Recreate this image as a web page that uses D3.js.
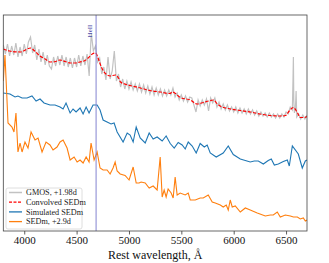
<!DOCTYPE html>
<html>
<head>
<meta charset="utf-8">
<script src="https://cdn.jsdelivr.net/npm/d3@7"></script>
<style>
  body { margin: 0; background: #fff; }
  svg { display: block; }
</style>
</head>
<body>
<svg id="chart"></svg>
<script>
// wavelength (Å), flux (arbitrary units, offset for display)
const gmos = [
  [3800,186],[3820,177],[3840,187],[3860,175],[3880,185],[3900,176],[3920,188],[3940,174],[3960,184],[3980,175],
  [4000,187],[4020,177],[4040,189],[4060,194],[4080,178],[4100,186],[4120,171],[4140,182],[4160,169],[4180,179],
  [4200,166],[4220,176],[4240,165],[4260,162],[4280,174],[4300,165],[4320,175],[4340,166],[4360,176],[4380,165],
  [4400,174],[4420,164],[4440,173],[4460,163],[4480,173],[4500,164],[4520,176],[4540,165],[4560,175],[4580,166],
  [4600,177],[4620,155],[4640,198],[4660,180],[4680,185],[4700,169],[4720,173],[4740,157],[4760,164],[4780,151],
  [4800,174],[4820,152],[4840,160],[4860,180],[4880,150],[4900,157],[4920,144],[4940,152],[4960,142],[4980,150],
  [5000,142],[5020,149],[5040,141],[5060,147],[5080,140],[5100,147],[5120,139],[5140,146],[5160,138],[5180,145],
  [5200,137],[5220,144],[5240,136],[5260,143],[5280,136],[5300,142],[5320,135],[5340,141],[5360,135],[5380,141],
  [5400,136],[5420,143],[5440,134],[5460,138],[5480,131],[5500,136],[5520,130],[5540,135],[5560,129],[5580,134],
  [5600,133],[5620,126],[5640,119],[5660,131],[5680,125],[5700,131],[5720,126],[5740,132],[5760,120],[5780,133],
  [5800,128],[5820,133],[5840,124],[5860,129],[5880,122],[5900,127],[5920,121],[5940,126],[5960,120],[5980,124],
  [6000,119],[6020,124],[6040,118],[6060,123],[6080,118],[6100,122],[6120,117],[6140,122],[6160,117],[6180,121],
  [6200,116],[6220,120],[6240,115],[6260,119],[6280,115],[6300,118],[6320,114],[6340,118],[6360,114],[6380,117],
  [6400,113],[6420,117],[6440,113],[6460,117],[6480,114],[6500,119],[6520,117],[6540,124],[6560,121],[6566,150],
  [6570,174],[6574,130],[6580,118],[6590,124],[6596,140],[6602,114],[6620,117],[6640,112],[6660,116],[6680,112],
  [6700,116]
];

const convolved = [
  [3800,182],[3860,180],[3960,179],[4060,183],[4100,180],[4150,175],[4200,172],[4250,169],[4300,169.5],[4340,171],
  [4390,169.5],[4440,168],[4490,168],[4530,169],[4580,170.5],[4610,173],[4650,177],[4680,178],[4705,173],[4725,167],
  [4755,160],[4780,157],[4820,155],[4870,156],[4900,153],[4920,149],[4960,147],[5010,145.5],[5110,143],[5200,140.5],
  [5300,139],[5390,137.5],[5415,139],[5490,133.5],[5585,131],[5650,127],[5710,128.5],[5760,130],[5805,131],[5845,127],
  [5870,125],[5970,122],[6060,120.5],[6160,119],[6250,117],[6350,115.5],[6445,115],[6495,115.5],[6530,120],[6570,123.5],
  [6610,118],[6635,113.5],[6675,113.5],[6700,114.5]
];

const simulated = [
  [3800,138],[3864,137],[3912,134],[3940,135],[3979,133],[4027,133],[4074,135],[4113,130],[4151,132],[4189,128],
  [4246,126],[4294,126],[4342,124],[4371,122],[4399,128],[4438,118],[4466,122],[4495,119],[4533,123],[4562,117],
  [4591,124],[4619,118],[4657,126],[4696,126],[4724,121],[4753,111],[4791,109],[4829,107],[4858,108],[4887,99],
  [4944,89],[4983,98],[5011,96],[5040,89],[5069,104],[5107,93],[5155,88],[5193,98],[5231,92],[5269,94],
  [5317,90],[5355,95],[5394,87.5],[5432,83],[5470,88.5],[5508,86],[5537,82],[5566,89],[5604,85],[5642,78],
  [5680,87.5],[5719,84],[5747,86],[5776,78],[5833,74],[5900,78],[5948,85],[5996,76.5],[6063,72],[6111,70.5],
  [6158,69],[6196,70],[6235,70],[6283,67],[6330,70.5],[6359,72],[6388,66],[6426,67],[6474,69.5],[6512,71],
  [6531,65],[6560,85],[6617,77],[6655,63],[6684,70],[6700,71]
];

const sedm = [
  [3800,150],[3816,176],[3845,108],[3883,104],[3902,99],[3921,118],[3940,79],[3960,88],[3979,79],[4007,89],
  [4036,83],[4065,99],[4103,91],[4132,93],[4170,79],[4208,89],[4246,86],[4275,81],[4313,84],[4342,89],
  [4371,91],[4409,83],[4438,71],[4476,74],[4505,69],[4533,71],[4562,68],[4591,74],[4619,69],[4638,88],
  [4667,71],[4696,79],[4724,63],[4753,61],[4791,61],[4820,57],[4848,63],[4868,69],[4887,60],[4916,57],
  [4963,55.5],[5001,51],[5040,64],[5069,48],[5097,48],[5116,49],[5155,48],[5193,43],[5231,45],[5269,41],
  [5298,74],[5317,34],[5336,41],[5355,34],[5374,42],[5403,38],[5422,33],[5441,54],[5460,36],[5489,38],
  [5537,36],[5566,38],[5585,31],[5633,31],[5680,33],[5709,33],[5757,36],[5795,29],[5824,28],[5872,26],
  [5900,24],[5929,26],[5948,21],[5967,31],[5986,24],[6015,25],[6063,19],[6111,23],[6158,21],[6225,18],
  [6302,15],[6350,16],[6378,16],[6416,19],[6445,14],[6493,16],[6541,15],[6570,14],[6608,14],[6636,12],
  [6665,13],[6684,10],[6700,11]
];

const xTicks = [4000, 4500, 5000, 5500, 6000, 6500];
const heIIWave = 4686;
const heIILabel = "HeII";
const legendLabels = ["GMOS, +1.98d", "Convolved SEDm", "Simulated SEDm", "SEDm, +2.9d"];
const xLabel = "Rest wavelength, Å";

const width = 329, height = 263;
const margin = {top: 15, right: 22, bottom: 32, left: 3.3};
const serif = "'Liberation Serif', 'DejaVu Serif', serif";

const svg = d3.select("#chart")
  .attr("width", width)
  .attr("height", height)
  .attr("font-family", serif);

const x = d3.scaleLinear()
  .domain([3800, 6700])
  .range([margin.left, width - margin.right]);

const y = d3.scaleLinear()
  .domain([0, 216])
  .range([height - margin.bottom, margin.top]);

svg.append("defs").append("clipPath").attr("id", "plot-clip")
  .append("rect")
  .attr("x", margin.left).attr("y", margin.top)
  .attr("width", x.range()[1] - x.range()[0])
  .attr("height", y.range()[0] - y.range()[1]);

const line = d3.line().x(d => x(d[0])).y(d => y(d[1]));

const plot = svg.append("g").attr("clip-path", "url(#plot-clip)");

plot.append("path").datum(gmos)
  .attr("d", line).attr("fill", "none")
  .attr("stroke", "#c2c2c2").attr("stroke-width", 1.2);

plot.append("path").datum(convolved)
  .attr("d", line.curve(d3.curveMonotoneX)).attr("fill", "none")
  .attr("stroke", "red").attr("stroke-width", 1.2)
  .attr("stroke-dasharray", "3.5,1.6");

line.curve(d3.curveLinear);

plot.append("path").datum(simulated)
  .attr("d", line).attr("fill", "none")
  .attr("stroke", "#1f77b4").attr("stroke-width", 1.1);

plot.append("path").datum(sedm)
  .attr("d", line).attr("fill", "none")
  .attr("stroke", "#ff7f0e").attr("stroke-width", 1.1);

// HeII marker
plot.append("line")
  .attr("x1", x(heIIWave)).attr("x2", x(heIIWave))
  .attr("y1", y.range()[1]).attr("y2", y.range()[0])
  .attr("stroke", "#8484d0").attr("stroke-width", 1);

svg.append("text")
  .attr("transform", `translate(${x(heIIWave) - 6.5},${31}) rotate(-90)`)
  .attr("text-anchor", "middle")
  .attr("dy", "0.35em")
  .attr("font-size", 7)
  .attr("fill", "#4a4aa8")
  .text(heIILabel);

// x axis
const xAxis = svg.append("g")
  .attr("transform", `translate(0,${y.range()[0]})`)
  .call(d3.axisBottom(x).tickValues(xTicks).tickSize(3.5).tickPadding(2).tickFormat(d3.format("d")));
xAxis.select(".domain").remove();
xAxis.selectAll("line").attr("stroke", "#333").attr("stroke-width", 0.8);
xAxis.selectAll("text").attr("font-family", serif).attr("font-size", 11).attr("fill", "#111");

svg.append("text")
  .attr("x", (x.range()[0] + x.range()[1]) / 2)
  .attr("y", 259)
  .attr("text-anchor", "middle")
  .attr("font-size", 12)
  .attr("fill", "#111")
  .text(xLabel);

// frame
svg.append("rect")
  .attr("x", x.range()[0]).attr("y", y.range()[1])
  .attr("width", x.range()[1] - x.range()[0])
  .attr("height", y.range()[0] - y.range()[1])
  .attr("fill", "none").attr("stroke", "#444").attr("stroke-width", 0.8);

// legend
const legendColors = ["#c2c2c2", "red", "#1f77b4", "#ff7f0e"];
const legend = svg.append("g").attr("transform", "translate(6,188)");
legend.append("rect")
  .attr("width", 76).attr("height", 41).attr("rx", 2)
  .attr("fill", "#fff").attr("fill-opacity", 0.85)
  .attr("stroke", "#d6d6d6").attr("stroke-width", 0.8);

const item = legend.selectAll("g.item")
  .data(legendLabels)
  .join("g")
  .attr("class", "item")
  .attr("transform", (d, i) => `translate(0,${4.5 + i * 9.7})`);

item.append("line")
  .attr("x1", 3).attr("x2", 16)
  .attr("stroke", (d, i) => legendColors[i])
  .attr("stroke-width", (d, i) => i === 0 ? 1.5 : 1.3)
  .attr("stroke-dasharray", (d, i) => i === 1 ? "3,1.5" : null);

item.append("text")
  .attr("x", 20)
  .attr("dy", "0.33em")
  .attr("font-size", 8.2)
  .attr("fill", "#222")
  .text(d => d);
</script>
</body>
</html>
